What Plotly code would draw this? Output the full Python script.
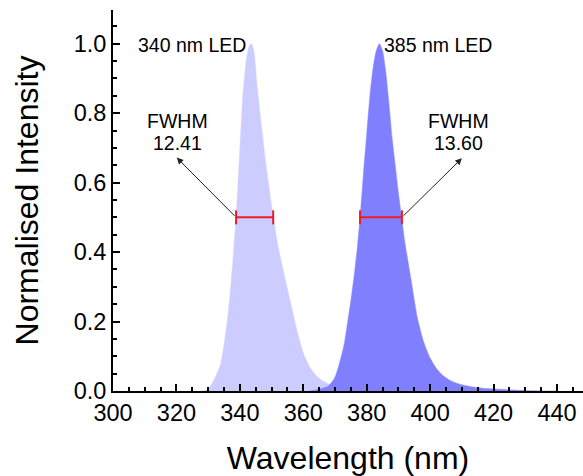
import plotly.graph_objects as go

# ---- data ----
wl_340 = [328, 330, 332, 334, 336, 337, 338, 339, 340, 341, 342, 343, 343.7, 344.5, 345.5,
          346.5, 348, 350, 352, 354, 356, 358, 360, 362, 364, 366, 368, 370, 372, 375, 378]
int_340 = [0, 0.005, 0.035, 0.08, 0.2, 0.29, 0.40, 0.53, 0.70, 0.86, 0.95, 0.995, 1.0, 0.975, 0.875,
           0.79, 0.67, 0.535, 0.42, 0.335, 0.255, 0.175, 0.11, 0.07, 0.045, 0.03, 0.02, 0.012, 0.006, 0.001, 0]

wl_385 = [362, 365, 368, 370, 372, 373, 374, 375, 376, 377, 378, 379, 380, 381, 382, 383, 384,
          385, 386, 387, 388, 389, 390, 391, 392, 394, 396, 398, 400, 402, 404, 406, 408, 410,
          414, 418, 422, 426, 432, 440]
int_385 = [0, 0.005, 0.015, 0.04, 0.10, 0.14, 0.20, 0.26, 0.33, 0.41, 0.51, 0.63, 0.74, 0.85, 0.93, 0.98, 1.0,
           0.98, 0.92, 0.83, 0.73, 0.65, 0.57, 0.50, 0.43, 0.32, 0.21, 0.14, 0.095, 0.065, 0.045, 0.032, 0.024, 0.018,
           0.011, 0.007, 0.005, 0.003, 0.001, 0]

fwhm_340_x = [338.8, 350.5]
fwhm_385_x = [377.9, 391.1]
half_level = 0.5
fwhm_labels = ["12.41", "13.60"]
led_labels = ["340 nm LED", "385 nm LED"]

x_ticks = [300, 320, 340, 360, 380, 400, 420, 440]
y_ticks = [0.0, 0.2, 0.4, 0.6, 0.8, 1.0]

FONT = "Liberation Sans, Arial, sans-serif"
ANN_SIZE = 19.5

fig = go.Figure()
fig.add_trace(go.Scatter(x=wl_340, y=int_340, mode="lines", fill="tozeroy",
                         line=dict(width=0.5, color="#d6d6ff", shape="spline", smoothing=0.6),
                         fillcolor="#ccccff", hoverinfo="skip", showlegend=False))
fig.add_trace(go.Scatter(x=wl_385, y=int_385, mode="lines", fill="tozeroy",
                         line=dict(width=0.5, color="#8a8aff", shape="spline", smoothing=0.6),
                         fillcolor="#8080ff", hoverinfo="skip", showlegend=False))

for xs in (fwhm_340_x, fwhm_385_x):
    fig.add_trace(go.Scatter(x=xs, y=[half_level, half_level], mode="lines+markers",
                             line=dict(color="#ee1c24", width=2),
                             marker=dict(symbol="line-ns", size=10,
                                         line=dict(color="#ee1c24", width=2)),
                             hoverinfo="skip", showlegend=False))

anns = []
# LED labels
anns.append(dict(x=342.6, y=0.997, xref="x", yref="y", text=led_labels[0], showarrow=False,
                 xanchor="right", yanchor="middle", font=dict(family=FONT, size=ANN_SIZE, color="black")))
anns.append(dict(x=384.9, y=0.997, xref="x", yref="y", text=led_labels[1], showarrow=False,
                 xanchor="left", yanchor="middle", font=dict(family=FONT, size=ANN_SIZE, color="black")))
# FWHM labels
for xc, val in ((320.2, fwhm_labels[0]), (408.8, fwhm_labels[1])):
    anns.append(dict(x=xc, y=0.777, xref="x", yref="y", text="FWHM", showarrow=False,
                     xanchor="center", yanchor="middle", font=dict(family=FONT, size=ANN_SIZE, color="black")))
    anns.append(dict(x=xc, y=0.7155, xref="x", yref="y", text=val, showarrow=False,
                     xanchor="center", yanchor="middle", font=dict(family=FONT, size=ANN_SIZE, color="black")))
# arrows
for tip, tail in (((320.1, 0.672), (fwhm_340_x[0], half_level)),
                  ((410.0, 0.670), (fwhm_385_x[1], half_level))):
    anns.append(dict(x=tip[0], y=tip[1], ax=tail[0], ay=tail[1], xref="x", yref="y",
                     axref="x", ayref="y", text="", showarrow=True, arrowhead=2,
                     arrowsize=1.3, arrowwidth=1, arrowcolor="#222222", standoff=0, startstandoff=0))

fig.update_layout(
    width=583, height=476,
    margin=dict(l=113, r=0, t=10, b=83),
    paper_bgcolor="white", plot_bgcolor="white",
    font=dict(family=FONT, color="black"),
    annotations=anns,
    xaxis=dict(range=[300, 448.2], tickvals=x_ticks, ticktext=[str(v) for v in x_ticks],
               ticks="inside", ticklen=7, tickwidth=2, tickcolor="black",
               minor=dict(dtick=5, ticks="inside", ticklen=4, tickwidth=2, tickcolor="black"),
               showline=True, linewidth=2, linecolor="black", showgrid=False, zeroline=False,
               tickfont=dict(family=FONT, size=23.5, color="black"),
               title=dict(text="Wavelength (nm)", font=dict(family=FONT, size=32, color="black"),
                          standoff=27)),
    yaxis=dict(range=[0, 1.097], tickvals=y_ticks, ticktext=["%.1f" % v for v in y_ticks],
               ticks="inside", ticklen=7, tickwidth=2, tickcolor="black",
               minor=dict(dtick=0.05, ticks="inside", ticklen=4, tickwidth=2, tickcolor="black"),
               showline=True, linewidth=2, linecolor="black", showgrid=False, zeroline=False,
               tickfont=dict(family=FONT, size=23.5, color="black"),
               title=dict(text="Normalised Intensity", font=dict(family=FONT, size=32, color="black"),
                          standoff=25)),
)

fig.write_html("out.html")
